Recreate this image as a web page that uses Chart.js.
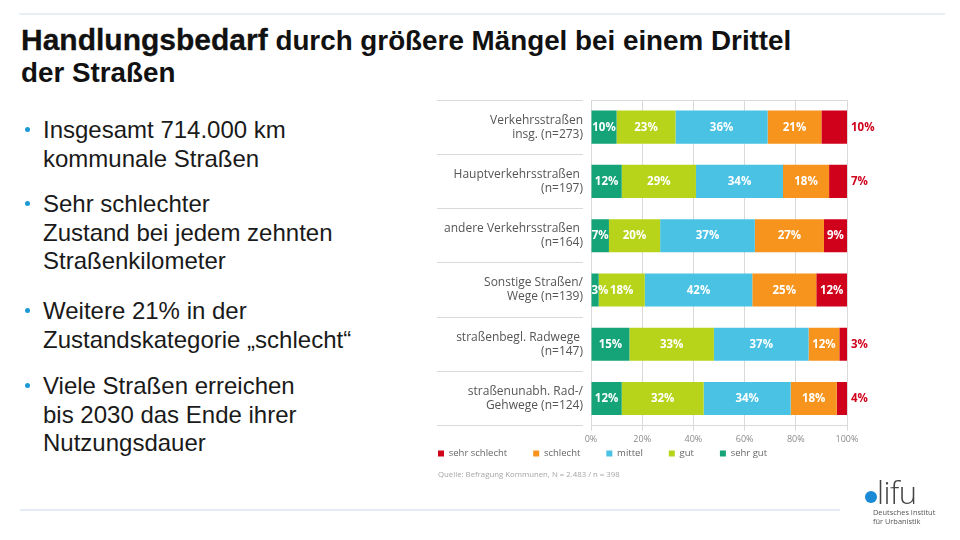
<!DOCTYPE html>
<html><head><meta charset="utf-8">
<script src="https://cdn.jsdelivr.net/npm/chart.js@4.4.0/dist/chart.umd.min.js"></script>
<style>
html,body{margin:0;padding:0;background:#fff;}
body{width:960px;height:540px;position:relative;overflow:hidden;font-family:"Liberation Sans",Arial,sans-serif;color:#1a1a1a;}
.topline{position:absolute;left:19px;top:13px;width:926px;height:2px;background:#e9eef4;}
.botline{position:absolute;left:20px;top:509px;width:820px;height:2px;background:#e4ebf6;}
.title{position:absolute;left:21px;margin:0;font-weight:bold;color:#111;white-space:nowrap;line-height:34px;font-size:27.8px;}
.title .big{font-size:30px;-webkit-text-stroke:0.3px #111;}
.bullet{position:absolute;left:43px;font-size:24px;line-height:28.7px;color:#1a1a1a;white-space:nowrap;}
.bullet::before{content:"";position:absolute;left:-18px;top:11px;width:5px;height:5px;border-radius:50%;background:#1c9ad6;}
#wrap{position:absolute;left:412px;top:90px;width:468px;height:403px;}
.source{position:absolute;left:438px;top:469px;font-family:"Open Sans",sans-serif;font-size:7.8px;color:#a5a5a5;white-space:nowrap;}
.logo-dot{position:absolute;left:865px;top:491px;width:12px;height:12px;border-radius:50%;background:#1a8ad6;}
.logo-txt{position:absolute;left:877px;top:476px;font-family:"Open Sans",sans-serif;font-weight:300;font-size:31px;line-height:32px;color:#444;letter-spacing:-0.5px;}
.logo-sub{position:absolute;left:873px;top:508px;font-family:"Open Sans",sans-serif;font-size:7.4px;line-height:8.5px;color:#555;white-space:nowrap;}
</style>
</head>
<body>
<div class="topline"></div>
<div class="title" style="top:23px"><span class="big">Handlungsbedarf</span> durch größere Mängel bei einem Drittel</div>
<div class="title" style="top:56px">der Straßen</div>

<div class="bullet" style="top:116px">Insgesamt 714.000 km<br>kommunale Straßen</div>
<div class="bullet" style="top:190px">Sehr schlechter<br>Zustand bei jedem zehnten<br>Straßenkilometer</div>
<div class="bullet" style="top:297px">Weitere 21% in der<br>Zustandskategorie „schlecht“</div>
<div class="bullet" style="top:372px">Viele Straßen erreichen<br>bis 2030 das Ende ihrer<br>Nutzungsdauer</div>

<div id="wrap"><canvas id="chart"></canvas></div>
<div class="source" id="source"></div>

<div class="botline"></div>
<div class="logo-dot"></div>
<div class="logo-txt">lifu</div>
<div class="logo-sub">Deutsches Institut<br>für Urbanistik</div>

<script>
// ---- data ----
const categories = [
  ["Verkehrsstraßen", "insg. (n=273)"],
  ["Hauptverkehrsstraßen ", "(n=197)"],
  ["andere Verkehrsstraßen ", "(n=164)"],
  ["Sonstige Straßen/", "Wege (n=139)"],
  ["straßenbegl. Radwege ", "(n=147)"],
  ["straßenunabh. Rad-/", "Gehwege (n=124)"]
];
const seriesNames = ["sehr gut", "gut", "mittel", "schlecht", "sehr schlecht"];
const sehrGut      = [10, 12,  7,  3, 15, 12];
const gut          = [23, 29, 20, 18, 33, 32];
const mittel       = [36, 34, 37, 42, 37, 34];
const schlecht     = [21, 18, 27, 25, 12, 18];
const sehrSchlecht = [10,  7,  9, 12,  3,  4];
const sehrSchlechtLabelOutside = [true, true, false, false, true, true];
const xTickValues = [0, 20, 40, 60, 80, 100];
const sourceNote = "Quelle: Befragung Kommunen, N = 2.483 / n = 398";

const seriesColors = ["#15a378", "#b7d41b", "#49c2e4", "#f7941e", "#d0021b"];
const seriesValues = [sehrGut, gut, mittel, schlecht, sehrSchlecht];

document.getElementById('source').textContent = sourceNote;

const valueLabels = {
  id: 'valueLabels',
  afterDatasetsDraw(chart) {
    const ctx = chart.ctx;
    ctx.save();
    ctx.font = 'bold 11.5px "Open Sans", sans-serif';
    ctx.textBaseline = 'middle';
    chart.data.datasets.forEach((ds, di) => {
      const meta = chart.getDatasetMeta(di);
      meta.data.forEach((bar, i) => {
        const txt = ds.data[i] + '%';
        if (di === 4 && sehrSchlechtLabelOutside[i]) {
          ctx.fillStyle = seriesColors[4];
          ctx.textAlign = 'left';
          ctx.fillText(txt, bar.x + 4, bar.y + 0.5);
        } else {
          const w = ctx.measureText(txt).width;
          const left = Math.min(bar.x, bar.base);
          const cx = Math.max((bar.x + bar.base) / 2, left + w / 2);
          ctx.fillStyle = '#ffffff';
          ctx.textAlign = 'center';
          ctx.fillText(txt, cx, bar.y + 0.5);
        }
      });
    });
    ctx.restore();
  }
};

// place the legend row directly under the axis labels, as in the original
const legendPlacement = {
  id: 'legendPlacement',
  afterLayout(chart) {
    const lg = chart.legend;
    if (!lg) return;
    const h = lg.height;
    lg.top = chart.chartArea.bottom - 3;
    lg.bottom = lg.top + h;
  }
};

const gridColor = '#d9d9d9';

new Chart(document.getElementById('chart'), {
  type: 'bar',
  data: {
    labels: categories,
    datasets: seriesNames.map((name, i) => ({
      label: name,
      data: seriesValues[i],
      backgroundColor: seriesColors[i],
      borderWidth: 0,
      barPercentage: 0.61,
      categoryPercentage: 1
    }))
  },
  options: {
    indexAxis: 'y',
    responsive: true,
    maintainAspectRatio: false,
    animation: false,
    layout: { padding: { top: 10, right: 33, left: 0, bottom: 0 } },
    plugins: {
      legend: {
        position: 'bottom',
        align: 'start',
        reverse: true,
        labels: {
          boxWidth: 6, boxHeight: 6, padding: 26,
          color: '#666',
          font: { family: 'Open Sans', size: 9.5 }
        }
      },
      tooltip: { enabled: false }
    },
    scales: {
      x: {
        stacked: true,
        min: 0, max: 100,
        afterBuildTicks: s => { s.ticks = xTickValues.map(v => ({ value: v })); },
        ticks: {
          callback: v => v + '%',
          color: '#8a8a8a',
          font: { family: 'Open Sans', size: 9 },
          padding: 3,
          maxRotation: 0,
          autoSkip: false
        },
        grid: { color: gridColor, lineWidth: 1, drawTicks: true, tickLength: 5, tickColor: gridColor },
        border: { display: true, color: gridColor }
      },
      y: {
        stacked: true,
        grid: {
          offset: true,
          color: c => (c.index === 0 || c.index === undefined) ? gridColor : 'rgba(0,0,0,0)',
          drawTicks: true,
          tickLength: 154,
          tickColor: gridColor,
          tickBorderDash: [146, 30]
        },
        border: { display: true, color: gridColor },
        ticks: {
          padding: -146,
          color: '#555',
          font: { family: 'Open Sans', size: 12, lineHeight: 1.17 }
        },
        afterFit: s => { s.width = 179; }
      }
    }
  },
  plugins: [valueLabels, legendPlacement]
});
</script>
</body></html>
